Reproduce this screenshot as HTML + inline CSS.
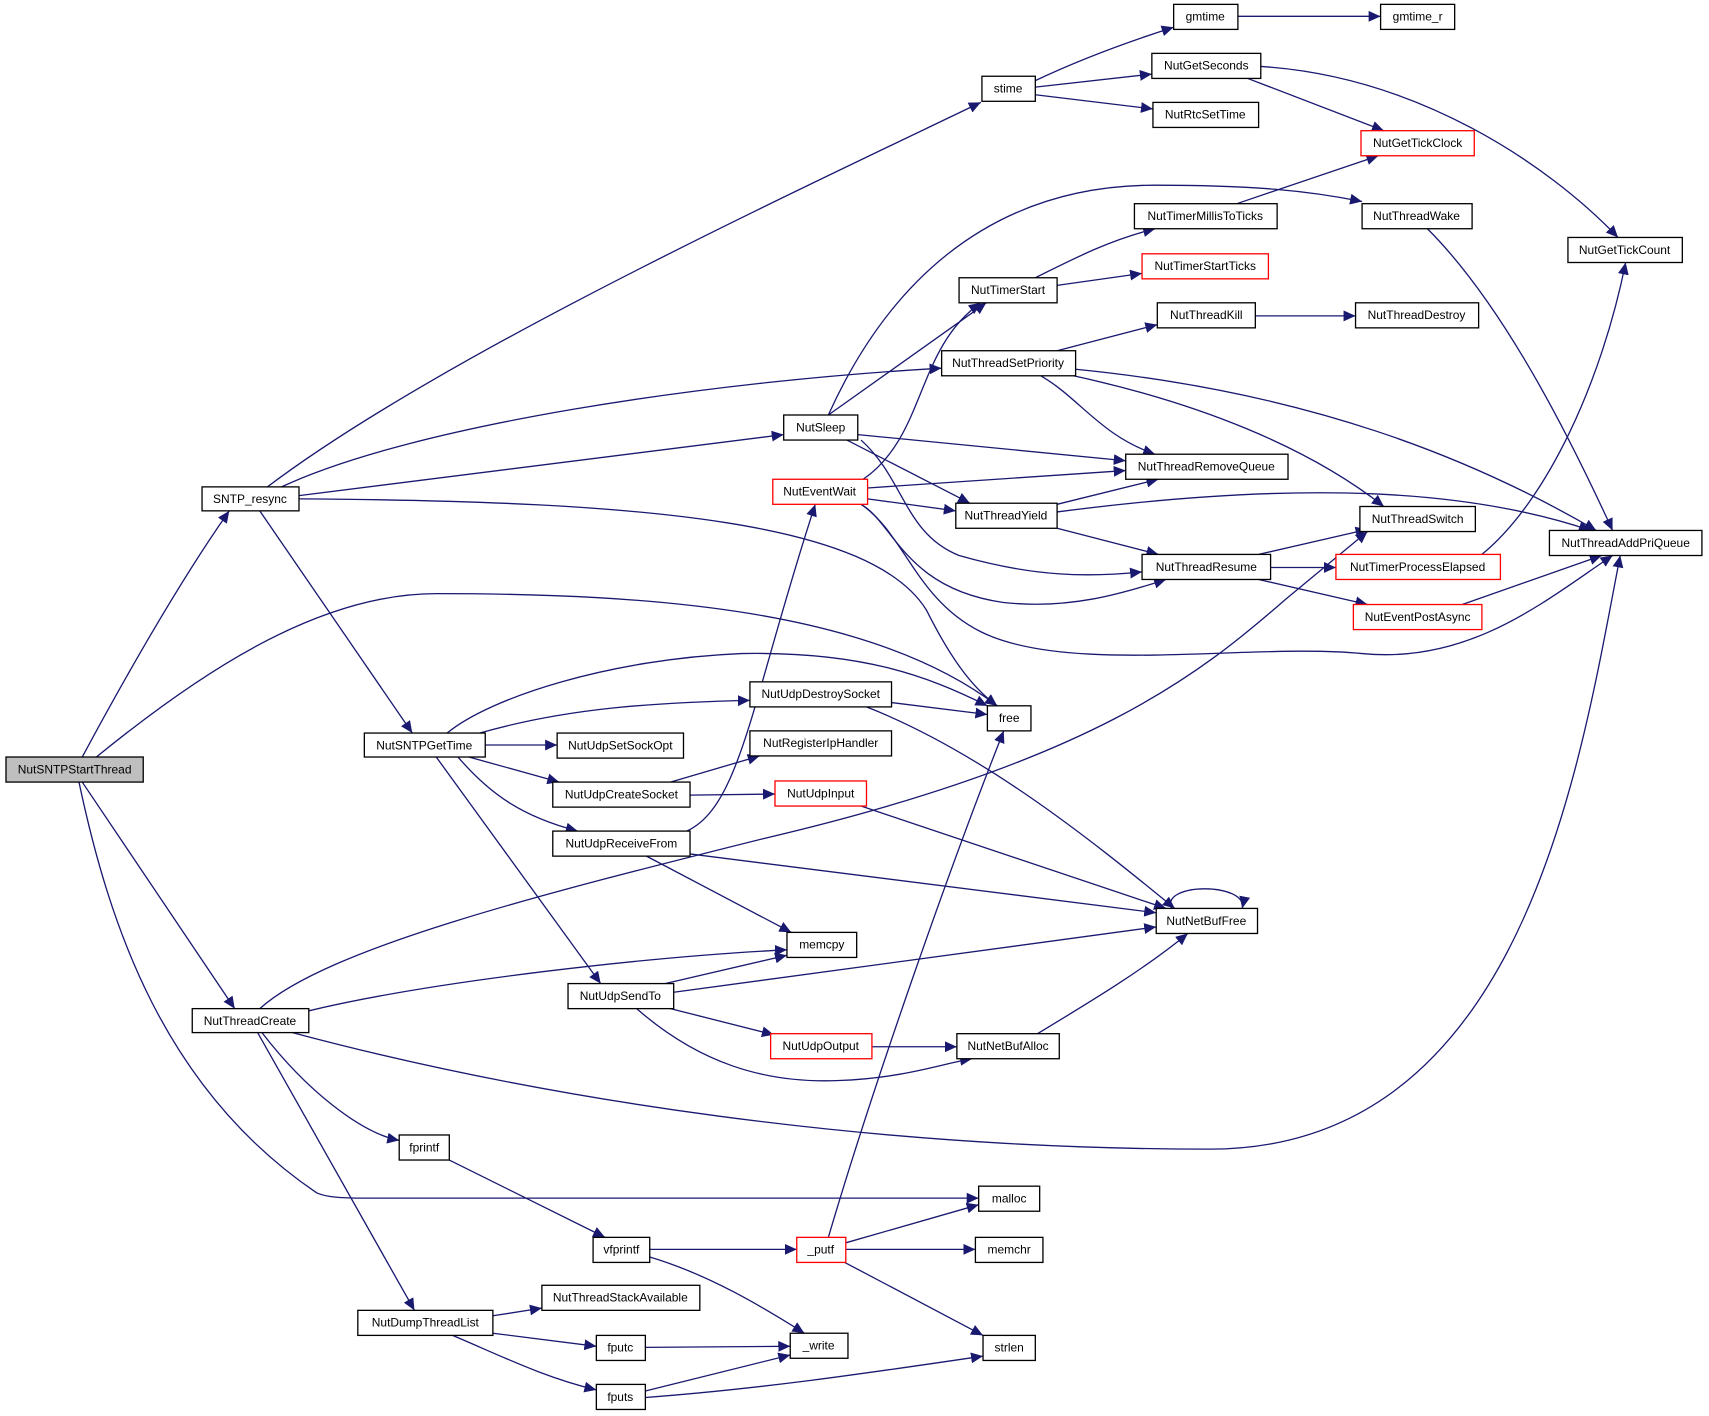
<!DOCTYPE html>
<html><head><meta charset="utf-8"><style>
html,body{margin:0;padding:0;background:#fff}
svg{display:block}
text{font-family:"Liberation Sans",Arial,sans-serif;font-size:11px;text-anchor:middle;fill:#000}
.e{fill:none;stroke:#191970;stroke-width:1.2;marker-end:url(#a)}
.n{fill:#fff;stroke:#000;stroke-width:1.2}
.r{fill:#fff;stroke:#f00;stroke-width:1.2}
</style></head><body>
<svg width="1709" height="1416" viewBox="0 0 1568 1300" xmlns="http://www.w3.org/2000/svg">
<defs><marker id="a" markerUnits="userSpaceOnUse" markerWidth="12" markerHeight="10" refX="11" refY="5" orient="auto"><path d="M0,0 L11,5 L0,10 z" fill="#191970"/></marker></defs>
<g>
<path class="e" d="M75,695 C110,630 160,540 210,469"/>
<path class="e" d="M88,695 C180,620 290,545 400,545 C600,545 800,560 915,648"/>
<path class="e" d="M75,718 L215,926"/>
<path class="e" d="M72,718 C100,850 150,1000 290,1095 C300,1100 320,1100 340,1100 L898,1100"/>
<path class="e" d="M245,447 C400,330 700,190 900,94"/>
<path class="e" d="M258,447 C380,390 650,350 864,338"/>
<path class="e" d="M274,455 L719,399"/>
<path class="e" d="M274,458 C600,460 800,480 850,560 C870,600 890,630 915,648"/>
<path class="e" d="M238,469 L378,673"/>
<path class="e" d="M445,684 L511,684"/>
<path class="e" d="M440,673 C520,650 600,645 688,643"/>
<path class="e" d="M410,673 C450,640 560,605 680,600 C790,598 850,620 906,648"/>
<path class="e" d="M430,695 L513,718"/>
<path class="e" d="M420,695 C450,730 480,750 530,763"/>
<path class="e" d="M400,695 L551,903"/>
<path class="e" d="M615,718 L697,694"/>
<path class="e" d="M633,730 L711,729"/>
<path class="e" d="M630,763 C680,740 690,640 748,463"/>
<path class="e" d="M633,784 L1061,838"/>
<path class="e" d="M593,786 L726,856"/>
<path class="e" d="M818,645 L906,656"/>
<path class="e" d="M795,649 C900,690 1000,770 1078,834"/>
<path class="e" d="M790,740 L1070,834"/>
<path class="e" d="M1075,834 C1065,810 1145,810 1140,834"/>
<path class="e" d="M610,903 L722,877"/>
<path class="e" d="M618,911 L1061,851"/>
<path class="e" d="M615,926 L710,950"/>
<path class="e" d="M584,926 C640,975 700,995 770,992 C830,990 870,975 892,972"/>
<path class="e" d="M800,961 L878,961"/>
<path class="e" d="M952,949 C1000,920 1050,890 1090,857"/>
<path class="e" d="M238,926 C300,870 500,820 700,770 C1000,700 1100,620 1180,550 L1255,488"/>
<path class="e" d="M283,928 C400,900 600,878 722,872"/>
<path class="e" d="M268,948 C500,1010 800,1055 1110,1055 C1400,1055 1450,700 1487,510"/>
<path class="e" d="M240,948 C280,1000 330,1040 366,1047"/>
<path class="e" d="M236,948 L380,1203"/>
<path class="e" d="M412,1065 L555,1136"/>
<path class="e" d="M596,1147 L731,1147"/>
<path class="e" d="M596,1154 C650,1170 700,1200 738,1224"/>
<path class="e" d="M760,1136 C800,1000 870,800 921,671"/>
<path class="e" d="M776,1141 L898,1106"/>
<path class="e" d="M776,1147 L895,1147"/>
<path class="e" d="M775,1159 L902,1226"/>
<path class="e" d="M452,1208 L497,1201"/>
<path class="e" d="M452,1224 L547,1236"/>
<path class="e" d="M415,1226 C460,1245 500,1265 547,1276"/>
<path class="e" d="M592,1237 L725,1236"/>
<path class="e" d="M592,1277 L725,1244"/>
<path class="e" d="M592,1283 C700,1275 800,1260 902,1245"/>
<path class="e" d="M950,74 C990,55 1030,40 1077,25"/>
<path class="e" d="M950,80 L1057,68"/>
<path class="e" d="M950,87 L1058,100"/>
<path class="e" d="M1136,15 L1267,15"/>
<path class="e" d="M1145,72 L1270,120"/>
<path class="e" d="M1157,61 C1300,70 1420,150 1485,218"/>
<path class="e" d="M1135,187 L1265,143"/>
<path class="e" d="M1310,210 C1380,280 1440,400 1480,487"/>
<path class="e" d="M950,255 C990,235 1020,220 1060,210"/>
<path class="e" d="M970,262 L1048,251"/>
<path class="e" d="M1152,290 L1244,290"/>
<path class="e" d="M970,322 L1062,298"/>
<path class="e" d="M955,345 C990,365 1010,400 1060,417"/>
<path class="e" d="M985,345 C1100,370 1200,410 1270,465"/>
<path class="e" d="M987,339 C1200,360 1350,420 1465,487"/>
<path class="e" d="M760,381 C810,270 900,170 1060,170 C1150,170 1200,175 1250,185"/>
<path class="e" d="M760,381 L905,278"/>
<path class="e" d="M787,399 L1033,423"/>
<path class="e" d="M777,404 L890,462"/>
<path class="e" d="M790,404 C830,440 830,490 880,510 C950,530 1000,530 1048,525"/>
<path class="e" d="M792,440 C850,400 840,320 900,278"/>
<path class="e" d="M796,448 L1033,432"/>
<path class="e" d="M796,458 L877,469"/>
<path class="e" d="M790,463 C820,480 830,540 920,553 C980,560 1030,545 1070,532"/>
<path class="e" d="M790,463 C830,490 840,550 900,580 C980,620 1150,590 1250,600 C1350,610 1420,550 1480,510"/>
<path class="e" d="M970,463 L1063,440"/>
<path class="e" d="M970,470 C1200,440 1350,450 1460,487"/>
<path class="e" d="M970,485 L1063,509"/>
<path class="e" d="M1155,509 L1255,486"/>
<path class="e" d="M1166,521 L1226,521"/>
<path class="e" d="M1155,532 L1255,555"/>
<path class="e" d="M1360,509 C1420,460 1470,350 1492,241"/>
<path class="e" d="M1342,555 L1470,510"/>
</g>
<g>
<rect x="5" y="695" width="126" height="23" fill="#bfbfbf" stroke="#000" stroke-width="1.2"/><text x="68" y="710">NutSNTPStartThread</text>
<rect class="n" x="185" y="447" width="89" height="22"/><text x="229" y="462">SNTP_resync</text>
<rect class="n" x="334" y="673" width="111" height="22"/><text x="389" y="688">NutSNTPGetTime</text>
<rect class="n" x="176" y="926" width="107" height="22"/><text x="229" y="941">NutThreadCreate</text>
<rect class="n" x="1077" y="4" width="59" height="23"/><text x="1106" y="19">gmtime</text>
<rect class="n" x="1267" y="4" width="68" height="23"/><text x="1301" y="19">gmtime_r</text>
<rect class="n" x="901" y="70" width="49" height="23"/><text x="925" y="85">stime</text>
<rect class="n" x="1057" y="49" width="100" height="23"/><text x="1107" y="64">NutGetSeconds</text>
<rect class="n" x="1058" y="94" width="97" height="23"/><text x="1106" y="109">NutRtcSetTime</text>
<rect class="r" x="1249" y="120" width="104" height="23"/><text x="1301" y="135">NutGetTickClock</text>
<rect class="n" x="1041" y="187" width="131" height="23"/><text x="1106" y="202">NutTimerMillisToTicks</text>
<rect class="n" x="1250" y="187" width="101" height="23"/><text x="1300" y="202">NutThreadWake</text>
<rect class="n" x="1439" y="218" width="105" height="23"/><text x="1491" y="233">NutGetTickCount</text>
<rect class="r" x="1048" y="233" width="116" height="23"/><text x="1106" y="248">NutTimerStartTicks</text>
<rect class="n" x="880" y="255" width="90" height="23"/><text x="925" y="270">NutTimerStart</text>
<rect class="n" x="1062" y="278" width="90" height="23"/><text x="1107" y="293">NutThreadKill</text>
<rect class="n" x="1244" y="278" width="113" height="23"/><text x="1300" y="293">NutThreadDestroy</text>
<rect class="n" x="864" y="322" width="123" height="23"/><text x="925" y="337">NutThreadSetPriority</text>
<rect class="n" x="719" y="381" width="68" height="23"/><text x="753" y="396">NutSleep</text>
<rect class="n" x="1033" y="417" width="149" height="23"/><text x="1107" y="432">NutThreadRemoveQueue</text>
<rect class="r" x="709" y="440" width="87" height="23"/><text x="752" y="455">NutEventWait</text>
<rect class="n" x="877" y="462" width="93" height="23"/><text x="923" y="477">NutThreadYield</text>
<rect class="n" x="1248" y="465" width="106" height="23"/><text x="1301" y="480">NutThreadSwitch</text>
<rect class="n" x="1422" y="487" width="140" height="23"/><text x="1492" y="502">NutThreadAddPriQueue</text>
<rect class="n" x="1048" y="509" width="118" height="23"/><text x="1107" y="524">NutThreadResume</text>
<rect class="r" x="1226" y="509" width="151" height="23"/><text x="1301" y="524">NutTimerProcessElapsed</text>
<rect class="r" x="1242" y="555" width="118" height="23"/><text x="1301" y="570">NutEventPostAsync</text>
<rect class="n" x="906" y="648" width="40" height="23"/><text x="926" y="663">free</text>
<rect class="n" x="688" y="626" width="130" height="23"/><text x="753" y="641">NutUdpDestroySocket</text>
<rect class="n" x="511" y="673" width="116" height="23"/><text x="569" y="688">NutUdpSetSockOpt</text>
<rect class="n" x="688" y="671" width="130" height="23"/><text x="753" y="686">NutRegisterIpHandler</text>
<rect class="n" x="507" y="718" width="126" height="23"/><text x="570" y="733">NutUdpCreateSocket</text>
<rect class="r" x="711" y="717" width="84" height="23"/><text x="753" y="732">NutUdpInput</text>
<rect class="n" x="507" y="763" width="126" height="23"/><text x="570" y="778">NutUdpReceiveFrom</text>
<rect class="n" x="1061" y="834" width="93" height="23"/><text x="1107" y="849">NutNetBufFree</text>
<rect class="n" x="722" y="856" width="64" height="23"/><text x="754" y="871">memcpy</text>
<rect class="n" x="521" y="903" width="97" height="23"/><text x="569" y="918">NutUdpSendTo</text>
<rect class="r" x="707" y="949" width="93" height="23"/><text x="753" y="964">NutUdpOutput</text>
<rect class="n" x="878" y="949" width="94" height="23"/><text x="925" y="964">NutNetBufAlloc</text>
<rect class="n" x="366" y="1042" width="46" height="23"/><text x="389" y="1057">fprintf</text>
<rect class="n" x="898" y="1089" width="56" height="23"/><text x="926" y="1104">malloc</text>
<rect class="n" x="544" y="1136" width="52" height="23"/><text x="570" y="1151">vfprintf</text>
<rect class="r" x="731" y="1136" width="45" height="23"/><text x="753" y="1151">_putf</text>
<rect class="n" x="895" y="1136" width="62" height="23"/><text x="926" y="1151">memchr</text>
<rect class="n" x="497" y="1180" width="145" height="23"/><text x="569" y="1195">NutThreadStackAvailable</text>
<rect class="n" x="328" y="1203" width="124" height="23"/><text x="390" y="1218">NutDumpThreadList</text>
<rect class="n" x="547" y="1226" width="45" height="23"/><text x="569" y="1241">fputc</text>
<rect class="n" x="725" y="1224" width="53" height="23"/><text x="751" y="1239">_write</text>
<rect class="n" x="902" y="1226" width="48" height="23"/><text x="926" y="1241">strlen</text>
<rect class="n" x="547" y="1271" width="45" height="23"/><text x="569" y="1286">fputs</text>
</g>
</svg>
</body></html>
